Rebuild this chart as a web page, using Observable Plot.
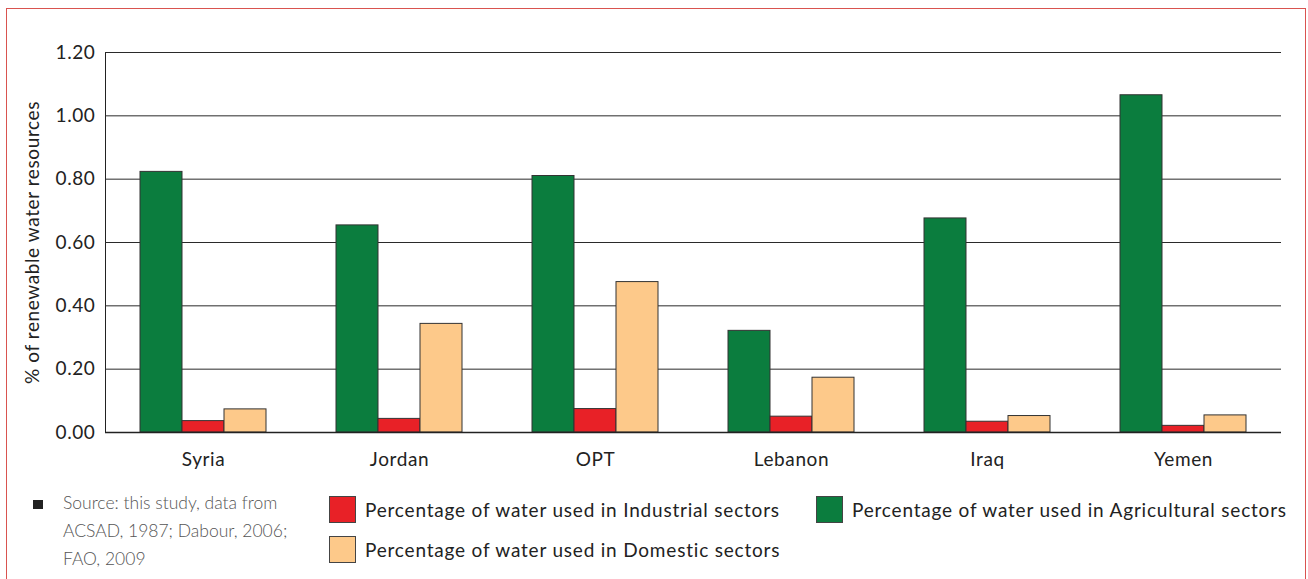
<!DOCTYPE html>
<html>
<head>
<meta charset="utf-8">
<script src="https://cdn.jsdelivr.net/npm/d3@7"></script>
<script src="https://cdn.jsdelivr.net/npm/@observablehq/plot@0.6"></script>
<style>
body{margin:0;background:#fff;font-family:Lato,"Open Sans",sans-serif;}
#wrap{position:relative;width:1308px;height:579px;overflow:hidden;background:#fff;}
#frame{position:absolute;left:6px;top:8px;width:1300px;height:640px;border:1px solid #d9534f;box-sizing:border-box;}
#chart{position:absolute;left:0;top:0;}
.leg{position:absolute;font-size:19px;letter-spacing:0.8px;color:#222;display:flex;align-items:center;white-space:nowrap;height:27px;}
.sw{width:27px;height:27px;border:1px solid #444;box-sizing:border-box;margin-right:9px;flex:none;}
#source{position:absolute;left:63px;top:489px;font-size:17.5px;line-height:28px;color:#555;font-weight:300;}
#bullet{position:absolute;left:33px;top:500px;width:10px;height:9px;background:#222;}
</style>
</head>
<body>
<div id="wrap">
  <div id="frame"></div>
  <div id="chart"></div>
  <div id="bullet"></div>
  <div id="source"></div>
  <div id="legend"></div>
</div>
<script>
const countries = ["Syria", "Jordan", "OPT", "Lebanon", "Iraq", "Yemen"];
const sectors = ["Agricultural", "Industrial", "Domestic"];
const agricultural = [0.823, 0.654, 0.810, 0.321, 0.676, 1.065];
const industrial   = [0.036, 0.043, 0.074, 0.050, 0.034, 0.021];
const domestic     = [0.073, 0.343, 0.475, 0.173, 0.052, 0.054];
const sectorColors = ["#0b7d3e", "#e82127", "#fdc98a"];
const legendLabels = [
  "Percentage of water used in Agricultural sectors",
  "Percentage of water used in Industrial sectors",
  "Percentage of water used in Domestic sectors"
];
const yTicks = [0, 0.2, 0.4, 0.6, 0.8, 1.0, 1.2];
const yLabel = "% of renewable water resources";
const sourceLines = ["Source: this study, data from", "ACSAD, 1987; Dabour, 2006;", "FAO, 2009"];

const seriesValues = [agricultural, industrial, domestic];
const rows = [];
countries.forEach((c, i) => sectors.forEach((s, j) => rows.push({country: c, sector: s, value: seriesValues[j][i]})));

const chart = Plot.plot({
  width: 1308,
  height: 480,
  marginLeft: 104,
  marginRight: 26,
  marginTop: 52,
  marginBottom: 48,
  style: {fontFamily: "Lato, 'Open Sans', sans-serif", fontSize: "19px", letterSpacing: "0.6px", color: "#222", background: "transparent"},
  fx: {domain: countries, padding: 0, axis: "bottom", tickSize: 0, tickPadding: 20, label: null},
  x: {domain: sectors, axis: null, paddingInner: 0, paddingOuter: 0.81},
  y: {domain: [0, 1.2], ticks: yTicks, tickFormat: d3.format(".2f"), tickSize: 0, tickPadding: 10,
      line: true, label: yLabel, labelArrow: "none", labelAnchor: "center", labelOffset: 80},
  color: {domain: sectors, range: sectorColors},
  marks: [
    Plot.ruleY(yTicks.slice(1), {stroke: "#2a2a2a", strokeWidth: 1}),
    Plot.barY(rows, {fx: "country", x: "sector", y: "value", fill: "sector", stroke: "#333", strokeWidth: 1}),
    Plot.ruleY([0], {stroke: "#222", strokeWidth: 1.5})
  ]
});
document.getElementById("chart").appendChild(chart);

document.getElementById("source").innerHTML = sourceLines.join("<br>");

const legendPos = [
  {left: 816, top: 496},
  {left: 329, top: 496},
  {left: 329, top: 536}
];
const legend = document.getElementById("legend");
legendLabels.forEach((lab, i) => {
  const d = document.createElement("div");
  d.className = "leg";
  d.style.left = legendPos[i].left + "px";
  d.style.top = legendPos[i].top + "px";
  const sw = document.createElement("div");
  sw.className = "sw";
  sw.style.background = sectorColors[i];
  const t = document.createElement("span");
  t.textContent = lab;
  d.appendChild(sw);
  d.appendChild(t);
  legend.appendChild(d);
});
</script>
</body>
</html>
